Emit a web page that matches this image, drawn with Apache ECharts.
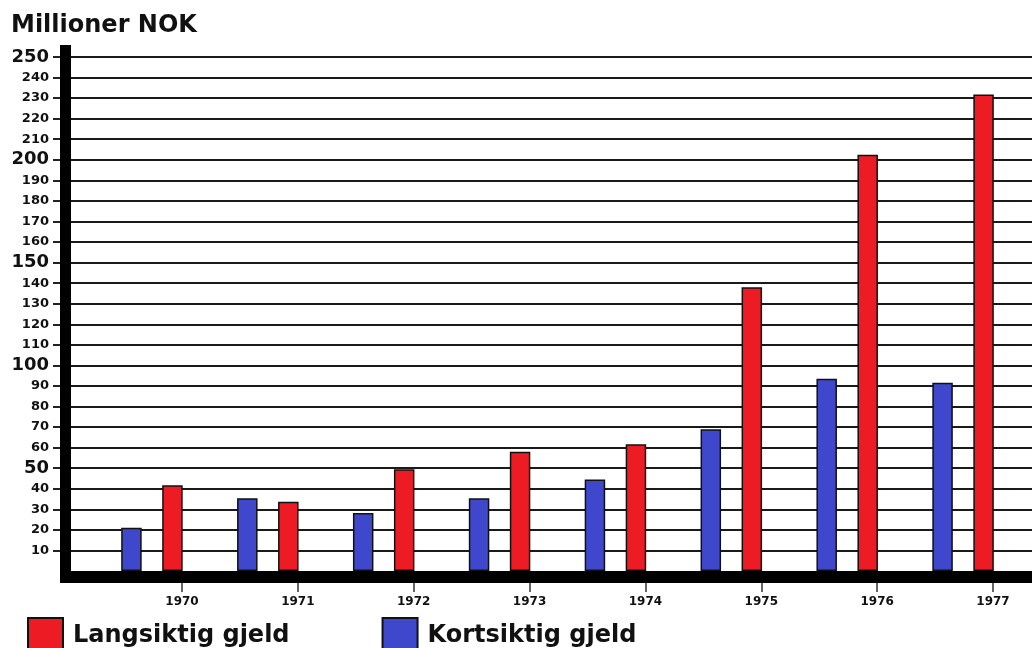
<!DOCTYPE html>
<html>
<head>
<meta charset="utf-8">
<script src="https://cdn.jsdelivr.net/npm/echarts@6/dist/echarts.min.js"></script>
<style>
html,body{margin:0;padding:0;background:#fff;}
#chart{width:1032px;height:648px;}
</style>
</head>
<body>
<div id="chart"></div>
<script>
const years = ['1970','1971','1972','1973','1974','1975','1976','1977'];
const kortsiktig = [21, 35.4, 28.2, 35.4, 44.5, 69, 93.5, 91.6];
const langsiktig = [41.7, 33.7, 49.5, 58, 61.7, 138, 202.5, 231.7];
const yMin = 0, yMax = 250, yStep = 10;
const yTickValues = [10,20,30,40,50,60,70,80,90,100,110,120,130,140,150,160,170,180,190,200,210,220,230,240,250];
const titleText = 'Millioner NOK';
const nameLang = 'Langsiktig gjeld';
const nameKort = 'Kortsiktig gjeld';

const FONT = 'DejaVu Sans';
const chart = echarts.init(document.getElementById('chart'), null, {renderer: 'canvas'});

const hiddenX = (gi) => ({type: 'value', gridIndex: gi, show: false});
const hiddenY = (gi) => ({type: 'value', gridIndex: gi, show: false, min: yMin, max: yMax});

chart.setOption({
  backgroundColor: '#ffffff',
  animation: false,
  title: {
    text: titleText, left: 11, top: 14, padding: 0,
    textStyle: {fontFamily: FONT, fontWeight: 'bold', fontSize: 24, color: '#111'}
  },
  legend: {
    data: [nameLang, nameKort],
    left: 27, top: 617, padding: 0,
    itemWidth: 35, itemHeight: 36, itemGap: 92,
    icon: 'rect',
    textStyle: {fontFamily: FONT, fontWeight: 'bold', fontSize: 24, color: '#111', padding: [0, 0, 0, 5]}
  },
  grid: [
    {left: 71, right: 0, top: 57, bottom: 77},          // main gridlines + labels
    {left: 94, width: 927, top: 57, bottom: 77},        // bars
    {left: 182, right: 39, top: 57, bottom: 65},        // year labels
    {left: 65.5, right: 0, top: 45, bottom: 65},        // thick y axis line
    {left: 60, right: 0, top: 45, bottom: 71}           // thick x axis line
  ],
  xAxis: [
    hiddenX(0),
    {type: 'category', gridIndex: 1, data: years, show: false},
    {
      type: 'category', gridIndex: 2, data: years, boundaryGap: false,
      axisLine: {show: false},
      axisTick: {show: true, length: 9, lineStyle: {color: '#333', width: 1.5}},
      axisLabel: {margin: 13, fontFamily: FONT, fontWeight: 'bold', fontSize: 12, color: '#111'},
      splitLine: {show: false}
    },
    hiddenX(3),
    {
      type: 'value', gridIndex: 4, position: 'bottom',
      axisLine: {show: true, lineStyle: {color: '#000', width: 12, cap: 'butt'}},
      axisTick: {show: false}, axisLabel: {show: false}, splitLine: {show: false}, z: 10
    }
  ],
  yAxis: [
    {
      type: 'value', gridIndex: 0, min: yMin, max: yMax, interval: yStep,
      axisLine: {show: false},
      axisTick: {show: true, length: 18, customValues: yTickValues, lineStyle: {color: '#222', width: 2}},
      splitLine: {show: true, lineStyle: {color: '#1a1a1a', width: 2}},
      axisLabel: {
        margin: 22,
        customValues: yTickValues,
        formatter: function (v) {
          if (v === 0) return '';
          return v % 50 === 0 ? '{b|' + v + '}' : '{s|' + v + '}';
        },
        rich: {
          b: {fontFamily: FONT, fontWeight: 'bold', fontSize: 18, color: '#111'},
          s: {fontFamily: FONT, fontWeight: 'bold', fontSize: 13, color: '#111'}
        }
      }
    },
    hiddenY(1),
    hiddenY(2),
    {
      type: 'value', gridIndex: 3, min: 0, max: 1, position: 'left',
      axisLine: {show: true, lineStyle: {color: '#000', width: 11, cap: 'butt'}},
      axisTick: {show: false}, axisLabel: {show: false}, splitLine: {show: false}, z: 10
    },
    hiddenY(4)
  ],
  series: [
    {
      name: nameKort, type: 'bar', xAxisIndex: 1, yAxisIndex: 1,
      data: kortsiktig, barWidth: 20.5, barGap: '100%',
      itemStyle: {color: '#3f48cc', borderColor: '#111', borderWidth: 1.5}
    },
    {
      name: nameLang, type: 'bar', xAxisIndex: 1, yAxisIndex: 1,
      data: langsiktig, barWidth: 20.5, barGap: '100%',
      itemStyle: {color: '#ed1c24', borderColor: '#111', borderWidth: 1.5}
    }
  ]
});
</script>
</body>
</html>
